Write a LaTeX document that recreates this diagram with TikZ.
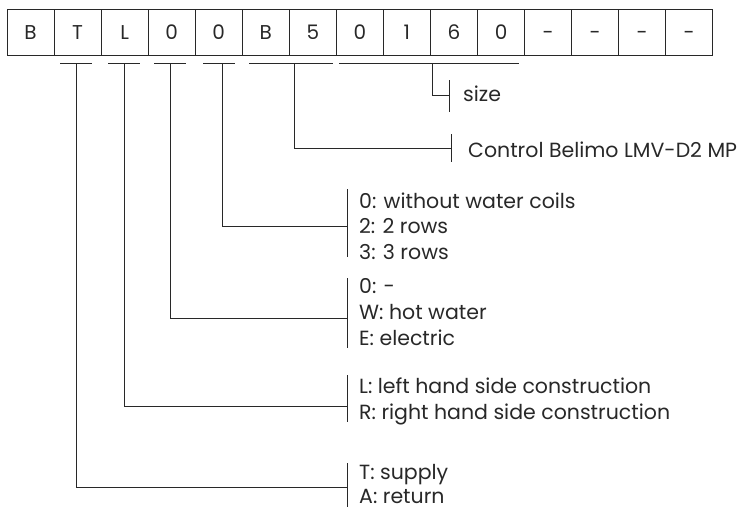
\documentclass[tikz,border=0pt]{standalone}
\usepackage{fontspec}
\setmainfont{Poppins}
\definecolor{inkc}{RGB}{40,40,40}
\begin{document}
\begin{tikzpicture}[x=1pt,y=-1pt,
  ink/.style={draw=inkc, line width=0.9pt},
  cell/.style={draw=inkc, line width=0.9pt, minimum width=47.05pt, minimum height=46pt,
    inner sep=0pt, text height=14pt, text depth=0pt, text=inkc,
    font=\fontsize{20}{22}\selectfont},
  lab/.style={anchor=base west, inner sep=0pt, text=inkc,
    font=\fontsize{20.5}{24}\selectfont}]
\useasboundingbox (0,0) rectangle (743,507);
% code cells
\foreach \c [count=\i from 0] in {B,T,L,0,0,B,5,0,1,6,0,-,-,-,-}
  \node[cell] (c\i) at ({7+47.05*\i+23.525},32) {\c};
% underlines
\coordinate (uTa) at (60,63);  \coordinate (uTb) at (92,63);  \coordinate (uT) at (76,63);
\coordinate (uLa) at (108,63); \coordinate (uLb) at (140,63); \coordinate (uL) at (124,63);
\coordinate (uHa) at (154,63); \coordinate (uHb) at (186,63); \coordinate (uH) at (170,63);
\coordinate (uWa) at (203,63); \coordinate (uWb) at (235,63); \coordinate (uW) at (222,63);
\coordinate (uCa) at (249,63); \coordinate (uCb) at (333,63); \coordinate (uC) at (294,63);
\coordinate (uSa) at (339,63); \coordinate (uSb) at (519,63); \coordinate (uS) at (432,63);
\foreach \u in {T,L,H,W,C,S} \draw[ink] (u\u a) -- (u\u b);
% labels
\node[lab] (size) at (463,101.5) {size};
\node[lab] (ctrl) at (468,157) {Control Belimo LMV-D2 MP};
\node[lab] (coil1) at (359,208) {0: without water coils};
\node[lab] (coil2) at (359,233.5) {2: 2 rows};
\node[lab] (coil3) at (359,259) {3: 3 rows};
\node[lab] (heat1) at (359,293.5) {0: -};
\node[lab] (heat2) at (359,319.3) {W: hot water};
\node[lab] (heat3) at (359,345) {E: electric};
\node[lab] (side1) at (359,393.5) {L: left hand side construction};
\node[lab] (side2) at (359,419.3) {R: right hand side construction};
\node[lab] (flow1) at (359,479) {T: supply};
\node[lab] (flow2) at (359,503.5) {A: return};
% ticks
\coordinate (ksA) at (449,80);  \coordinate (ksB) at (449,112); \coordinate (ks) at (449,95);
\coordinate (kcA) at (451,134); \coordinate (kcB) at (451,162); \coordinate (kc) at (451,148);
\coordinate (kwA) at (347,189); \coordinate (kwB) at (347,257); \coordinate (kw) at (347,226);
\coordinate (khA) at (347,278); \coordinate (khB) at (347,348); \coordinate (kh) at (347,318);
\coordinate (klA) at (347,375); \coordinate (klB) at (347,422); \coordinate (kl) at (347,406);
\coordinate (ktA) at (347,463); \coordinate (ktB) at (347,507); \coordinate (kt) at (347,487);
\foreach \k in {s,c,w,h,l,t} \draw[ink] (k\k A) -- (k\k B);
% connectors
\draw[ink] (uS) |- (ks);
\draw[ink] (uC) |- (kc);
\draw[ink] (uW) |- (kw);
\draw[ink] (uH) |- (kh);
\draw[ink] (uL) |- (kl);
\draw[ink] (uT) |- (kt);
\end{tikzpicture}
\end{document}
